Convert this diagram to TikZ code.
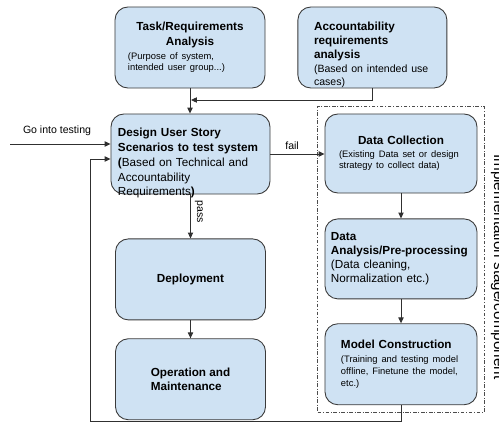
\documentclass[tikz,border=0pt]{standalone}
\usepackage{fontspec}
\setmainfont{Liberation Sans}
\usetikzlibrary{positioning, arrows.meta, fit}
\definecolor{boxfill}{HTML}{CFE2F3}
\definecolor{boxline}{HTML}{3A3A3A}
\definecolor{linkline}{HTML}{303030}

\begin{document}
\begin{tikzpicture}[x=0.03cm, y=-0.03cm,
    stage/.style = {draw=boxline, fill=boxfill, line width=0.75pt, rounded corners=11pt, minimum width=4.5cm, minimum height=2.43cm, inner sep=0pt},
    link/.style = {draw=linkline, line width=0.75pt, -{Triangle[length=5pt,width=4.5pt]}},
    frame/.style = {draw=black!70, line width=0.6pt, dash pattern=on 3pt off 1.5pt on 0.8pt off 1.5pt, inner sep=0.21cm}]
    \useasboundingbox (0,0) rectangle (499,424);
    % requirement stage
    \node[stage, text width=3.72cm] (task) at (190,47.5) {{\centering\bfseries Task/Requirements\\Analysis\par}\vspace{3pt}\fontsize{8}{9.4}\selectfont (Purpose of system,\\intended user group...)\par};
    \node[stage, text width=3.5cm, minimum width=4.47cm, text height=13.3pt, text depth=41.9pt] (acc) [right=0.96cm of task] {{\bfseries Accountability\\requirements\\analysis\par}\vspace{1pt}\small (Based on intended use\\cases)\par};
    \node[stage, text width=4.35cm, minimum width=4.77cm, minimum height=2.4cm, text height=15pt, text depth=45.6pt] (design) at (190.5,154) {\fontsize{10}{12.8}\selectfont\bfseries Design User Story\\Scenarios to test system\\(\mdseries Based on Technical and\\Accountability\\Requirements\bfseries)};
    \node[stage, minimum height=2.43cm, font=\bfseries] (deploy) [below=1.32cm of design] {Deployment};
    \node[stage, align=left, font=\bfseries] (operate) [below=0.54cm of deploy] {Operation and\\Maintenance};
    % implementation stage
    \node[stage, text width=3.72cm, minimum width=4.56cm, minimum height=2.37cm] (collect) at (401,153.5) {{\centering\bfseries Data Collection\par}\vspace{2pt}\fontsize{8}{9.4}\selectfont (Existing Data set or design\\strategy to collect data)\par};
    \node[stage, text width=4.2cm, minimum width=4.56cm, minimum height=2.4cm] (analysis) [below=0.75cm of collect] {{\bfseries Data\\Analysis/Pre-processing\par}(Data cleaning,\\Normalization etc.)};
    \node[stage, text width=3.6cm, minimum width=4.56cm] (model) [below=0.72cm of analysis] {{\bfseries Model Construction\par}\vspace{2pt}\fontsize{8}{10}\selectfont (Training and testing model\\offline, Finetune the model,\\etc.)\par};
    \node[frame, fit=(collect)(analysis)(model)] (implement) {};
    \node[rotate=-90, anchor=base west, font=\fontsize{13}{15}\selectfont] (stagename) at (494,150) {Implementation stage/component};
    % connectors
    \coordinate (start) at (10,144);
    \coordinate (merge) at (191,100);
    \coordinate (back) at (90,421);
    \node[font=\small] (golabel) at (57,131) {Go into testing};
    \draw[link] (start) -- (start -| design.west);
    \draw[link] (task.south) -- (task.south |- design.north);
    \draw[link] (acc.south) |- (merge);
    \draw[link] (design.east) -- (design.east -| collect.west) node[pos=0.4, above, font=\small] (faillabel) {fail};
    \draw[link] (design.south -| deploy.north) -- (deploy.north) node[pos=0.4, rotate=-90, anchor=south, font=\small] (passlabel) {pass};
    \draw[link] (deploy) -- (operate);
    \draw[link] (collect) -- (analysis);
    \draw[link] (analysis) -- (model);
    \draw[link] (model.south) |- (back) |- ([yshift=-0.15cm]design.west);
\end{tikzpicture}
\end{document}
